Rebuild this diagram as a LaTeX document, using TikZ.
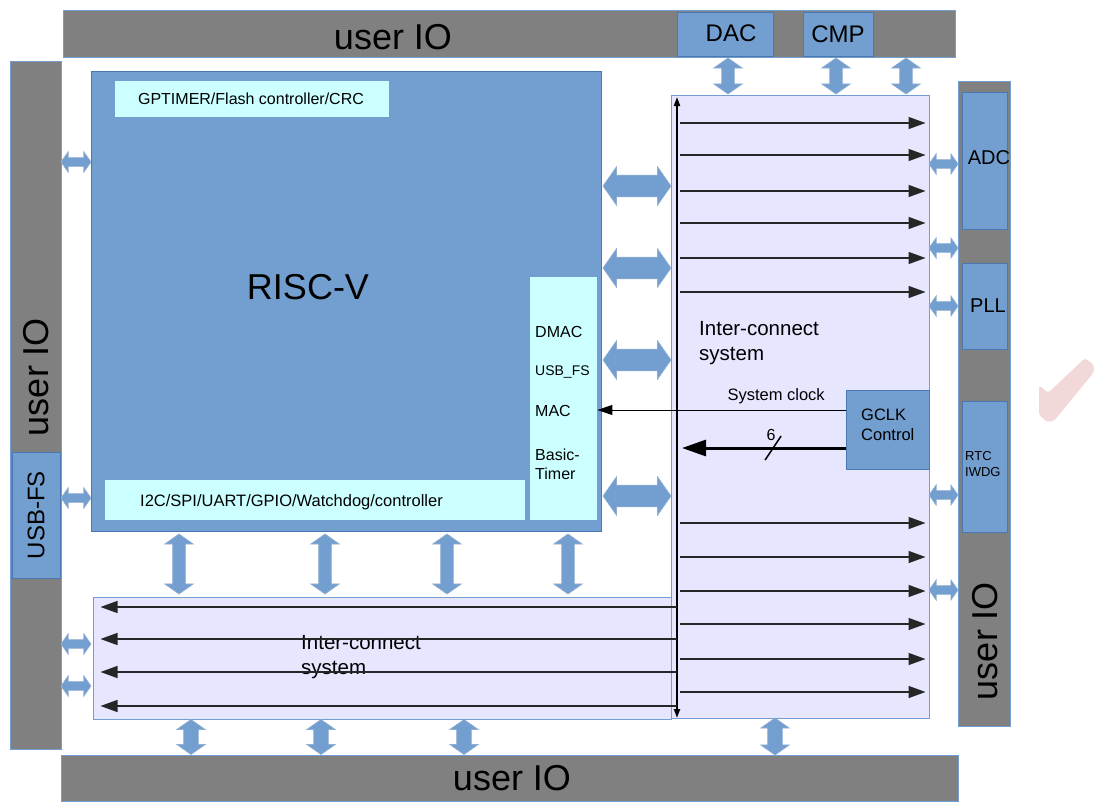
\documentclass[tikz,border=0pt]{standalone}
\usepackage{fontspec}
\setmainfont{Liberation Sans}
\usetikzlibrary{fit,shapes.arrows,arrows.meta}

\definecolor{iogray}{HTML}{808080}
\definecolor{blk}{HTML}{729FCF}
\definecolor{blkline}{HTML}{4A78B4}
\definecolor{lcyan}{HTML}{CCFFFF}
\definecolor{lav}{HTML}{E6E6FF}
\definecolor{chk}{HTML}{F2D8D8}

\newcommand\fsz[1]{\fontsize{#1}{#1}\selectfont}

\tikzset{
  iobar/.style={draw=blk, fill=iogray, inner sep=0, line width=1pt},
  blkbox/.style={draw=blkline, fill=blk, inner sep=0, line width=.8pt},
  cybox/.style={draw=blk, fill=lcyan, inner sep=0, line width=.8pt},
  icbox/.style={draw=blk, fill=lav, inner sep=0, line width=1pt},
  iotxt/.style={font=\fsz{36}, inner sep=0},
  lbl/.style={font=\fsz{#1}, inner sep=0},
  fatarr/.style n args={3}{double arrow, draw=blkline!60, fill=blk, line width=.6pt,
    inner xsep=0, inner ysep=#2, minimum height=#1, double arrow head extend=#3,
    double arrow tip angle=110},
  bus/.style={line width=1.4pt, draw=black!85, -{Triangle[length=17pt,width=12pt]}},
}

\begin{document}
\begin{tikzpicture}[x=1pt, y=-1pt]
\useasboundingbox (0,0) rectangle (1094,803);

% user IO frame
\node[iobar, fit={(63,10)(955,57)}] (topio) {};
\node[iobar, fit={(10,61)(61,749)}] (leftio) {};
\node[iobar, fit={(61,755)(958,801)}] (botio) {};
\node[iobar, fit={(958,81)(1010,726)}] (rightio) {};
\node[iotxt] at (393,37) {user IO};
\node[iotxt, rotate=90] at (36,377) {user IO};
\node[iotxt] at (512,778) {user IO};
\node[iotxt, rotate=90] at (985,641) {user IO};

% blocks sitting on the frame
\node[blkbox, fit={(677,12)(773,56)}] (dac) {};
\node[blkbox, fit={(803,12)(873,56)}] (cmp) {};
\node[blkbox, fit={(12,452)(60,578)}] (usbfs) {};
\node[blkbox, fit={(962,92)(1007,229)}] (adc) {};
\node[blkbox, fit={(962,263)(1007,349)}] (pll) {};
\node[blkbox, fit={(962,401)(1007,532)}] (rtc) {};
\node[lbl=24] at (731,33) {DAC};
\node[lbl=24] at (cmp) {CMP};
\node[lbl=24, rotate=90] at (usbfs) {USB-FS};
\node[lbl=20] at (989,158) {ADC};
\node[lbl=20] at (988,306) {PLL};
\node[lbl=13, anchor=west, align=left] at (965,464) {RTC\\[3pt]IWDG};

% core
\node[blkbox, fit={(91,71)(601,531)}] (riscv) {};
\node[cybox, fit={(114,80)(389,117)}] (gptimer) {};
\node[cybox, fit={(529,276)(597,520)}] (periph) {};
\node[cybox, fit={(104,479)(525,520)}] (serial) {};
\node[lbl=36] at (308,287) {RISC-V};
\node[lbl=16] at (251,99) {GPTIMER/Flash controller/CRC};
\node[lbl=16.5, anchor=west] at (140,502) {I2C/SPI/UART/GPIO/Watchdog/controller};
\node[lbl=16, anchor=west] (dmac) at (535,332) {DMAC};
\node[lbl=14, anchor=west] (usb) at (535,372) {USB\_FS};
\node[lbl=16, anchor=west] (mac) at (535,411) {MAC};
\node[lbl=16, anchor=west, align=left] (btim) at (535,464) {Basic-\\[3pt]Timer};

% interconnects
\node[icbox, fit={(671,95)(929,718)}] (icR) {};
\node[icbox, fit={(93,597)(671,719)}] (icB) {};
\node[blkbox, fit={(846,390)(929,469)}] (gclk) {};
\node[lbl=20.5, anchor=west, align=left] at (699,343) {Inter-connect\\[5pt]system};
\node[lbl=20.5, anchor=west, align=left] at (301,657) {Inter-connect\\[5pt]system};
\node[lbl=16.5, anchor=west, align=left] at (861,425) {GCLK\\[4pt]Control};

% bus lines
\coordinate (vtop) at (677,97);
\coordinate (vbot) at (677,718);
\draw[line width=2pt, {Triangle[length=9pt,width=6pt]}-{Triangle[length=9pt,width=6pt]}] (vbot) -- (vtop);
\foreach \y in {123,155,191,223,258,292,523,557,591,624,659,692}
  \draw[bus, shorten <=3pt, shorten >=4pt] (vtop |- 0,\y) -- (icR.east |- 0,\y);
\foreach \y in {607,639,672,706}
  \draw[bus, shorten >=8pt] (vtop |- 0,\y) -- (icB.west |- 0,\y);

% clocks
\draw[line width=1pt, -{Triangle[length=15pt,width=10pt]}] (gclk.west |- 0,410) -- node[lbl=16.5, pos=.28, above=6pt] {System clock} (periph.east |- 0,410);
\draw[line width=3pt, -{Triangle[length=24pt,width=16pt]}, shorten >=5pt] (gclk.west |- 0,448) -- coordinate[pos=.43] (sl) (vtop |- 0,448);
\draw[line width=1.5pt] ([shift={(-8,12)}]sl) -- ([shift={(8,-12)}]sl);
\node[lbl=16] at (771,435) {6};

% data paths
\foreach \y [count=\i] in {186,268,360,496}
  \node[fatarr={68}{10.5}{8.5}] (big\i) at (637,\y) {};
\foreach \x [count=\i] in {728,836,906}
  \node[fatarr={36}{6}{8}, rotate=90] (up\i) at (\x,76) {};
\foreach \y [count=\i] in {164,248,306,495,590}
  \node[fatarr={29}{4}{6}] (rt\i) at (943.5,\y) {};
\foreach \y [count=\i] in {162,498,644,686}
  \node[fatarr={30}{4}{6}] (lt\i) at (76,\y) {};
\foreach \x [count=\i] in {179,325,447,568}
  \node[fatarr={60}{6}{8}, rotate=90] (mid\i) at (\x,564) {};
\foreach \x [count=\i] in {191,321,464}
  \node[fatarr={35}{7}{7}, rotate=90] (dn\i) at (\x,737) {};
\node[fatarr={37}{7}{7}, rotate=90] (dn4) at (775,736.5) {};

% mark
\fill[chk, rounded corners=3pt] (1039,385) -- (1048,393) -- (1085,358) -- (1094,365)
  -- (1094,372) -- (1054,421) -- (1047,422) -- (1039,415) -- cycle;
\end{tikzpicture}
\end{document}
